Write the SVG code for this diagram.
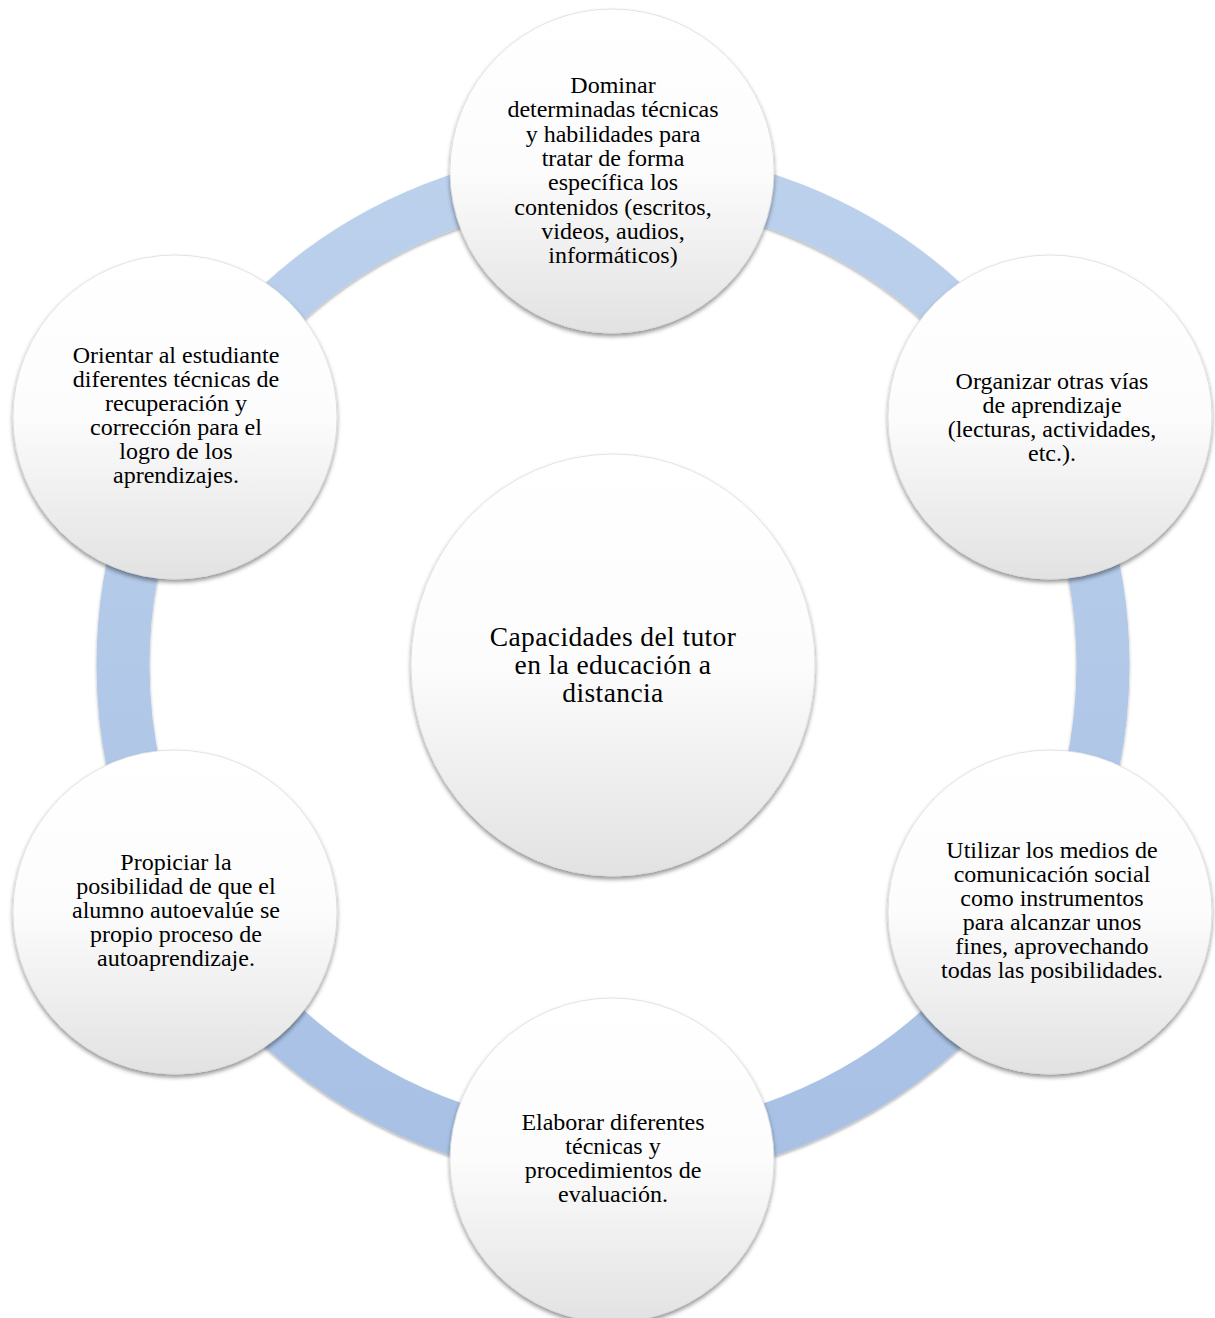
<svg xmlns="http://www.w3.org/2000/svg" width="1215" height="1318" viewBox="0 0 1215 1318">
<style>
.node{fill:url(#gNode);filter:url(#shNode);stroke:#dcdcdc;stroke-width:0.8;}
.t{font-family:"Liberation Serif","Times New Roman",serif;font-size:24px;fill:#000;text-anchor:middle;}
.tc{font-family:"Liberation Serif","Times New Roman",serif;font-size:27.5px;letter-spacing:0.4px;fill:#000;text-anchor:middle;}
</style>
<defs>
<linearGradient id="gNode" x1="0" y1="0" x2="0" y2="1">
<stop offset="0" stop-color="#ffffff"/>
<stop offset="0.5" stop-color="#fcfcfc"/>
<stop offset="1" stop-color="#e2e2e2"/>
</linearGradient>
<linearGradient id="gRing" gradientUnits="userSpaceOnUse" x1="0" y1="150" x2="0" y2="1180">
<stop offset="0" stop-color="#bcd1ec"/>
<stop offset="1" stop-color="#a7c0e4"/>
</linearGradient>
<filter id="shNode" x="-20%" y="-20%" width="140%" height="140%">
<feDropShadow dx="0" dy="3" stdDeviation="2" flood-color="#000" flood-opacity="0.42"/>
</filter>
<filter id="shRing" x="-10%" y="-10%" width="120%" height="120%">
<feDropShadow dx="0" dy="2" stdDeviation="1.5" flood-color="#000" flood-opacity="0.3"/>
</filter>
</defs>
<rect width="1215" height="1318" fill="#ffffff"/>
<g id="connectors">
<circle cx="613" cy="665" r="490" fill="none" stroke="url(#gRing)" stroke-width="53" filter="url(#shRing)"/>
</g>
<g id="center">
<ellipse class="node" cx="613" cy="665" rx="202" ry="211"/>
<text class="tc" x="613" y="646">Capacidades del tutor</text>
<text class="tc" x="613" y="674">en la educación a</text>
<text class="tc" x="613" y="702">distancia</text>
</g>
<g id="n1">
<circle class="node" cx="612" cy="171" r="162"/>
<text class="t" x="613" y="93">Dominar</text>
<text class="t" x="613" y="117.3">determinadas técnicas</text>
<text class="t" x="613" y="141.6">y habilidades para</text>
<text class="t" x="613" y="165.9">tratar de forma</text>
<text class="t" x="613" y="190.2">específica los</text>
<text class="t" x="613" y="214.5">contenidos (escritos,</text>
<text class="t" x="613" y="238.8">videos, audios,</text>
<text class="t" x="613" y="263">informáticos)</text>
</g>
<g id="n2">
<circle class="node" cx="1050" cy="417" r="162"/>
<text class="t" x="1052" y="389">Organizar otras vías</text>
<text class="t" x="1052" y="413">de aprendizaje</text>
<text class="t" x="1052" y="437">(lecturas, actividades,</text>
<text class="t" x="1052" y="461">etc.).</text>
</g>
<g id="n3">
<circle class="node" cx="1050" cy="912" r="162"/>
<text class="t" x="1052" y="858">Utilizar los medios de</text>
<text class="t" x="1052" y="882">comunicación social</text>
<text class="t" x="1052" y="906">como instrumentos</text>
<text class="t" x="1052" y="930">para alcanzar unos</text>
<text class="t" x="1052" y="954">fines, aprovechando</text>
<text class="t" x="1052" y="978">todas las posibilidades.</text>
</g>
<g id="n4">
<circle class="node" cx="612" cy="1160" r="162"/>
<text class="t" x="613" y="1130">Elaborar diferentes</text>
<text class="t" x="613" y="1154">técnicas y</text>
<text class="t" x="613" y="1178">procedimientos de</text>
<text class="t" x="613" y="1202">evaluación.</text>
</g>
<g id="n5">
<circle class="node" cx="175" cy="912" r="162"/>
<text class="t" x="176" y="870">Propiciar la</text>
<text class="t" x="176" y="894">posibilidad de que el</text>
<text class="t" x="176" y="918">alumno autoevalúe se</text>
<text class="t" x="176" y="942">propio proceso de</text>
<text class="t" x="176" y="966">autoaprendizaje.</text>
</g>
<g id="n6">
<circle class="node" cx="175" cy="417" r="162"/>
<text class="t" x="176" y="363">Orientar al estudiante</text>
<text class="t" x="176" y="387">diferentes técnicas de</text>
<text class="t" x="176" y="411">recuperación y</text>
<text class="t" x="176" y="435">corrección para el</text>
<text class="t" x="176" y="459">logro de los</text>
<text class="t" x="176" y="483">aprendizajes.</text>
</g>
</svg>
